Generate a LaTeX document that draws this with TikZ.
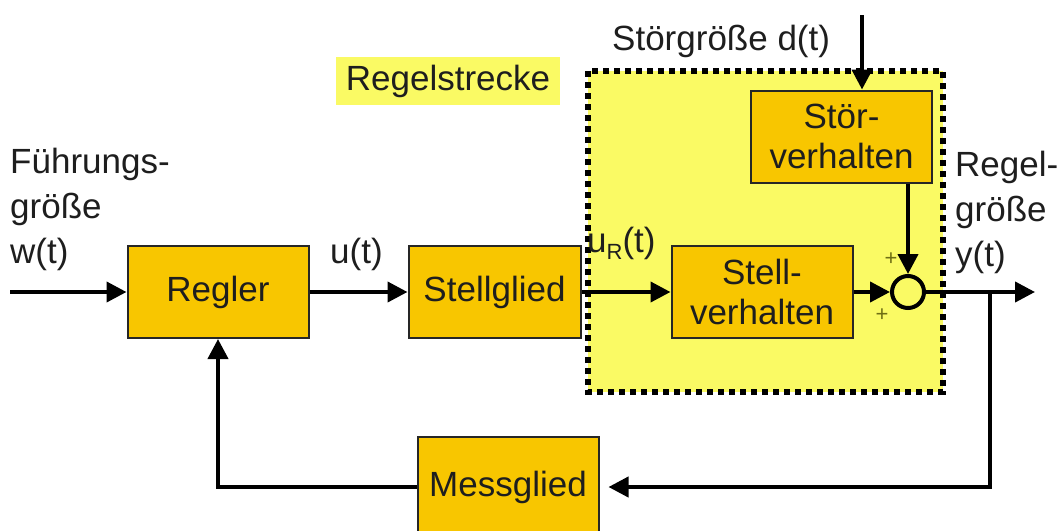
\documentclass[tikz,border=0pt]{standalone}
\usepackage{fontspec}
\setmainfont{Liberation Sans}
\usetikzlibrary{arrows.meta}
\definecolor{blockfill}{RGB}{248,198,0}
\definecolor{strecke}{RGB}{250,250,100}
\definecolor{plusgreen}{RGB}{110,110,20}
\definecolor{ink}{RGB}{30,30,30}

\begin{document}
\begin{tikzpicture}[x=1pt,y=-1pt,>={Triangle[length=20pt,width=20pt]},
  every node/.style={font=\fontsize{35}{45}\selectfont,text=ink},
  block/.style={draw=black!85,line width=2pt,fill=blockfill,minimum width=181pt,
    minimum height=92pt,align=center,font=\fontsize{35}{40}\selectfont},
  sig/.style={line width=4pt},
  lbl/.style={anchor=base west,inner sep=0pt,align=left}]
  \useasboundingbox (0,0) rectangle (1059,530);
  \fill[white] (0,0) rectangle (1059,530);
  % Regelstrecke
  \draw[fill=strecke,line width=6pt,dash pattern=on 6pt off 5pt] (588,71) rectangle (943,392);
  \node[fill=strecke,minimum width=224pt,minimum height=48pt,inner sep=0pt] (strlbl) at (448,81) {Regelstrecke};

  \node[block] (regler) at (218,292) {Regler};
  \node[block,minimum width=172pt] (stell) at (494.5,292) {Stellglied};
  \node[block] (stoer) at (841.5,136.5) {Stör-\\verhalten};
  \node[block] (sv) at (762,292) {Stell-\\verhalten};
  \node[block,minimum height=100pt] (mess) at (508,487) {Messglied};
  \node[circle,draw,line width=4pt,fill=strecke,minimum size=32pt,inner sep=0pt] (sum) at (908,292) {};

  % multi-line labels sit on their last line
  \node[lbl] (fuehr) at (10,263) {Führungs-\\größe\\w(t)};
  \node[lbl] (ut) at (330,263) {u(t)};
  \node[lbl] (urt) at (587,252) {u\raisebox{-0.22em}{\fontsize{22}{22}\selectfont R}(t)};
  \node[lbl] (regelgr) at (955,266) {Regel-\\größe\\y(t)};
  \node[lbl] (dt) at (612,50) {Störgröße d(t)};
  \node[font=\fontsize{22}{22}\selectfont,text=plusgreen] (p1) at (891,259) {+};
  \node[font=\fontsize{22}{22}\selectfont,text=plusgreen] (p2) at (882,315) {+};

  \coordinate (win) at (10,292);
  \coordinate (yout) at (1035,292);
  \coordinate (dist) at (862,15);
  \coordinate (branch) at (990,292);
  \draw[sig,->] (win) -- (regler);
  \draw[sig,->] (regler) -- (stell);
  \draw[sig,->] (stell) -- (sv);
  \draw[sig,->] (sv) -- (sum);
  \draw[sig,->] (sum) -- (yout);
  \draw[sig,->] (dist) -- (dist |- stoer.north);
  \draw[sig,->] (stoer.south -| sum) -- (sum);
  \draw[sig,->] (branch) |- ([xshift=9pt]mess.east);
  \draw[sig,->] (mess) -| (regler);
\end{tikzpicture}
\end{document}
